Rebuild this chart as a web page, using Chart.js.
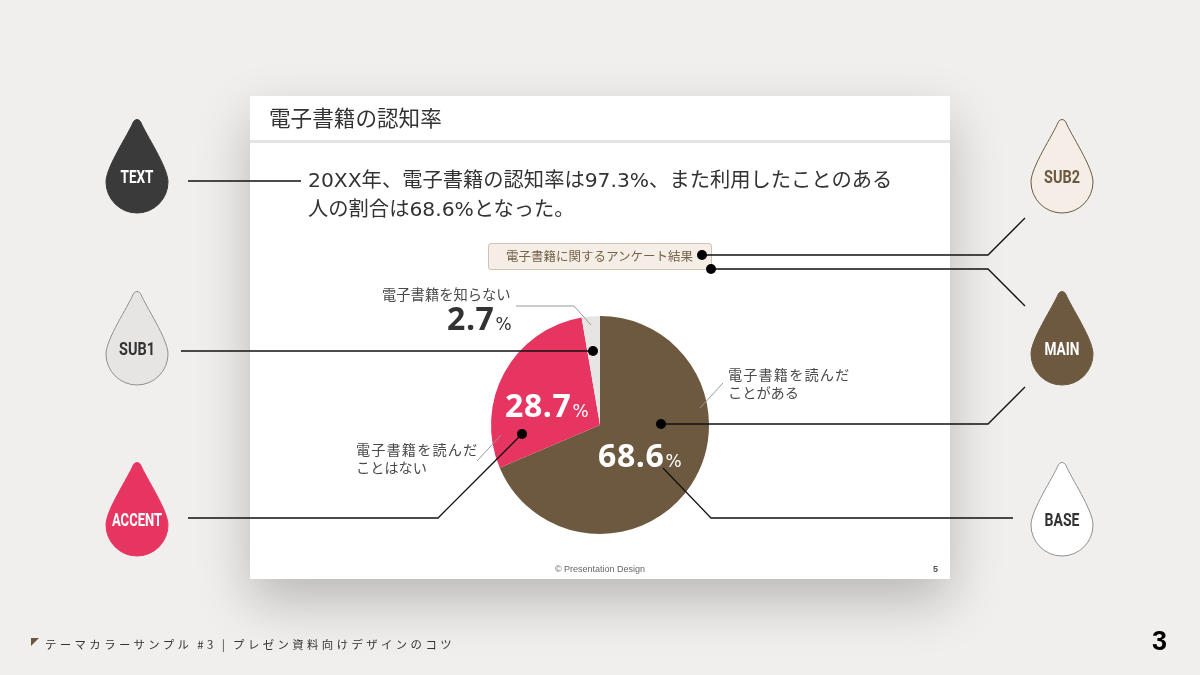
<!DOCTYPE html>
<html lang="ja">
<head>
<meta charset="utf-8">
<title>電子書籍の認知率</title>
<script src="https://cdn.jsdelivr.net/npm/chart.js@4/dist/chart.umd.min.js"></script>
<style>
  html, body { margin: 0; padding: 0; }
  body { width: 1200px; height: 675px; position: relative; overflow: hidden; background: #f0efed;
         font-family: "DejaVu Sans", "Noto Sans CJK JP", sans-serif; color: #4a4a4a; }
  .card { position: absolute; left: 250px; top: 96px; width: 700px; height: 483px; background: #fff;
          box-shadow: 0 22px 50px rgba(0,0,0,.23); }
  .rule { position: absolute; left: 250px; top: 140px; width: 700px; height: 3px; background: #e4e3e1; }
  #pie { position: absolute; left: 440px; top: 300px; }
  #overlay { position: absolute; left: 0; top: 0; }
  .t { position: absolute; white-space: nowrap; }
  .box { position: absolute; left: 488px; top: 243px; width: 224px; height: 27px; box-sizing: border-box;
         background: #f4eee6; border: 1px solid #cfc3b2; border-radius: 3px; }
  .wide { letter-spacing: 1.1px; }
  .corner { position: absolute; left: 31px; top: 638px; width: 0; height: 0;
            border-top: 8px solid #6b573e; border-right: 8px solid transparent; }
</style>
</head>
<body>
<div class="card"></div>
<div class="rule"></div>
<div class="box"></div>
<canvas id="pie" width="280" height="240"></canvas>
<svg id="overlay" width="1200" height="675"></svg>

<div class="t" style="left:269px;top:104px;font-size:21.6px;line-height:30px;color:#333">電子書籍の認知率</div>
<div class="t" style="left:308px;top:166px;font-size:20.3px;line-height:28.5px;color:#333">20XX年、電子書籍の認知率は97.3%、また利用したことのある<br>人の割合は68.6%となった。</div>
<div class="t" style="left:506px;top:248px;font-size:12.5px;line-height:18px;color:#75624a">電子書籍に関するアンケート結果</div>
<div class="t" style="left:382px;top:287px;font-size:14.3px;line-height:16px">電子書籍を知らない</div>
<div class="t" style="left:728px;top:366px;font-size:14.2px;line-height:18px"><span class="wide">電子書籍を読んだ</span><br>ことがある</div>
<div class="t" style="left:356px;top:441px;font-size:14.2px;line-height:18px"><span class="wide">電子書籍を読んだ</span><br>ことはない</div>
<div class="t" style="left:500px;width:200px;text-align:center;top:562px;font-family:'Liberation Sans',sans-serif;font-size:9px;line-height:14px;color:#666">© Presentation Design</div>
<div class="t" style="left:933px;top:562px;font-family:'Liberation Sans',sans-serif;font-weight:700;font-size:9px;line-height:14px;color:#555">5</div>

<div class="corner"></div>
<div class="t" style="left:45px;top:635px;font-family:'Noto Sans CJK JP',sans-serif;font-size:11.4px;line-height:18px;letter-spacing:3.4px;word-spacing:-1px;color:#333">テーマカラーサンプル #3 | プレゼン資料向けデザインのコツ</div>
<div class="t" style="left:1152px;top:622px;font-family:'Liberation Sans',sans-serif;font-weight:700;font-size:27px;line-height:38px;color:#000">3</div>

<script>
// survey result shares, in percent
const categories = ['電子書籍を読んだことがある', '電子書籍を読んだことはない', '電子書籍を知らない'];
const shares = [68.6, 28.7, 2.7];
const sliceColors = ['#6d593f', '#e73562', '#e7e5e4'];
const shareInk = ['#ffffff', '#ffffff', '#333333'];

// theme colour drops: name, centre x, top of the tip, fill, outline, text colour
const dropNames = ['TEXT', 'SUB1', 'ACCENT', 'SUB2', 'MAIN', 'BASE'];
const dropFills = ['#3a3a3a', '#e7e5e4', '#e73562', '#f4eee6', '#6d593f', '#ffffff'];
const dropStrokes = ['#3a3a3a', '#8f8f8f', '#e73562', '#6d593f', '#6d593f', '#8f8f8f'];
const dropInk = ['#ffffff', '#333333', '#ffffff', '#6d593f', '#ffffff', '#333333'];
const dropX = [137, 137, 137, 1062, 1062, 1062];
const dropTop = [119, 291, 462, 119, 291, 462];
const dropTextWidth = [33, 36, 50, 36, 35, 35];

// where each share label starts, relative to the pie centre
const labelOffsets = [[-2, 42], [-95, -8], [-153, -95]];

const shareLabels = {
    id: 'shareLabels',
    afterDatasetsDraw(chart) {
        const { ctx } = chart;
        const centre = chart.getDatasetMeta(0).data[0];
        ctx.save();
        ctx.textBaseline = 'alphabetic';
        shares.forEach((value, i) => {
            const x = centre.x + labelOffsets[i][0];
            const y = centre.y + labelOffsets[i][1];
            ctx.fillStyle = shareInk[i];
            ctx.font = '700 32px "Open Sans", sans-serif';
            ctx.letterSpacing = '0.6px';
            const text = String(value);
            ctx.fillText(text, x, y);
            const width = ctx.measureText(text).width;
            ctx.font = '400 17px "DejaVu Sans", sans-serif';
            ctx.letterSpacing = '0px';
            ctx.fillText('%', x + width + 1, y);
        });
        ctx.restore();
    }
};

new Chart(document.getElementById('pie'), {
    type: 'pie',
    data: {
        labels: categories,
        datasets: [{ data: shares, backgroundColor: sliceColors, borderWidth: 0 }]
    },
    options: {
        responsive: false,
        animation: false,
        layout: { padding: { left: 51, right: 11, top: 16, bottom: 6 } },
        plugins: { legend: { display: false }, tooltip: { enabled: false } }
    },
    plugins: [shareLabels]
});

const SVG_NS = 'http://www.w3.org/2000/svg';
const overlay = document.getElementById('overlay');

function addSvg(tag, attrs, text) {
    const el = document.createElementNS(SVG_NS, tag);
    Object.keys(attrs).forEach(k => el.setAttribute(k, attrs[k]));
    if (text) el.textContent = text;
    overlay.appendChild(el);
}

function dropPath(cx, top) {
    return `M${cx - 3.5} ${top + 2.5} Q${cx} ${top - 1.5} ${cx + 3.5} ${top + 2.5} ` +
        `C${cx + 9} ${top + 16} ${cx + 31} ${top + 48} ${cx + 31} ${top + 63} ` +
        `A31 31 0 0 1 ${cx - 31} ${top + 63} ` +
        `C${cx - 31} ${top + 48} ${cx - 9} ${top + 16} ${cx - 3.5} ${top + 2.5} Z`;
}

dropNames.forEach((name, i) => {
    addSvg('path', { d: dropPath(dropX[i], dropTop[i]), fill: dropFills[i], stroke: dropStrokes[i], 'stroke-width': 1 });
    addSvg('text', {
        x: dropX[i], y: dropTop[i] + 64, 'text-anchor': 'middle', fill: dropInk[i],
        'font-family': 'Roboto, sans-serif', 'font-weight': 700, 'font-size': 19,
        textLength: dropTextWidth[i], lengthAdjust: 'spacingAndGlyphs'
    }, name);
});

// thin grey leaders between the pie and its captions
const leaders = ['516,306 574,306 591,325', '723,383 700,408', '501,435 477,461'];
leaders.forEach(p => addSvg('polyline', { points: p, fill: 'none', stroke: '#999', 'stroke-width': 1 }));

// black callouts from each drop to where the colour is used
const callouts = [
    '188,181 301,181',
    '181,351 593,351',
    '188,518 438,518 522,434',
    '1025,218 988,255 702,255',
    '1025,306 988,269 711,269',
    '1025,387 988,424 661,424',
    '1013,518 711,518 663,468'
];
callouts.forEach(p => addSvg('polyline', { points: p, fill: 'none', stroke: '#111', 'stroke-width': 1.3 }));

const dots = [[593, 351], [522, 434], [702, 255], [711, 269], [661, 424]];
dots.forEach(d => addSvg('circle', { cx: d[0], cy: d[1], r: 5, fill: '#000' }));
</script>
</body>
</html>
